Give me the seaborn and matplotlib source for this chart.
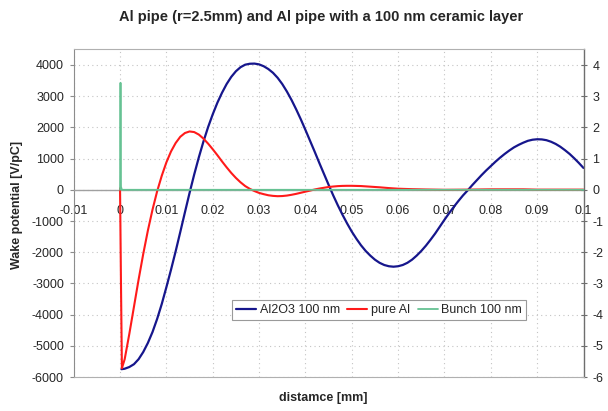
import numpy as np
import pandas as pd
import matplotlib
matplotlib.use("Agg")
import matplotlib.pyplot as plt
import seaborn as sns

# -------------------------
# Data
# -------------------------
TITLE = "Al pipe (r=2.5mm) and Al pipe with a 100 nm ceramic layer"
X_LABEL = "distamce [mm]"
Y_LABEL = "Wake potential [V/pC]"

# Al2O3 100 nm (left axis, V/pC)
al2o3_x = [0.0003, 0.001, 0.002, 0.003, 0.004, 0.005, 0.006, 0.007, 0.008, 0.009,
           0.010, 0.011, 0.012, 0.013, 0.014, 0.015, 0.016, 0.017, 0.018, 0.019,
           0.020, 0.021, 0.022, 0.023, 0.024, 0.025, 0.026, 0.027, 0.028, 0.029,
           0.030, 0.031, 0.032, 0.033, 0.034, 0.035, 0.036, 0.037, 0.038, 0.039,
           0.040, 0.041, 0.042, 0.043, 0.044, 0.045, 0.046, 0.047, 0.048, 0.049,
           0.050, 0.051, 0.052, 0.053, 0.054, 0.055, 0.056, 0.057, 0.058, 0.059,
           0.060, 0.061, 0.062, 0.063, 0.064, 0.065, 0.066, 0.067, 0.068, 0.069,
           0.070, 0.071, 0.072, 0.073, 0.074, 0.075, 0.076, 0.077, 0.078, 0.079,
           0.080, 0.081, 0.082, 0.083, 0.084, 0.085, 0.086, 0.087, 0.088, 0.089,
           0.090, 0.091, 0.092, 0.093, 0.094, 0.095, 0.096, 0.097, 0.098, 0.099,
           0.100]
al2o3_y = [-5750, -5735, -5680, -5590, -5430, -5200, -4910, -4560, -4140, -3660,
           -3120, -2560, -1970, -1350, -720, -100, 490, 1040, 1550, 2010,
           2420, 2790, 3110, 3390, 3620, 3800, 3930, 4010, 4040, 4045,
           4020, 3960, 3870, 3750, 3590, 3390, 3150, 2880, 2580, 2260,
           1920, 1570, 1220, 860, 510, 160, -180, -500, -800, -1080,
           -1340, -1570, -1780, -1960, -2110, -2240, -2340, -2410, -2450, -2465,
           -2450, -2410, -2340, -2240, -2110, -1960, -1790, -1600, -1400, -1180,
           -960, -750, -550, -360, -180, -20, 150, 310, 470, 620,
           760, 900, 1030, 1150, 1260, 1360, 1440, 1510, 1570, 1605,
           1620, 1615, 1590, 1540, 1470, 1380, 1270, 1150, 1010, 860,
           700]

# pure Al (left axis, V/pC)
al_x = [0.0, 0.0002, 0.0004, 0.001, 0.002, 0.003, 0.004, 0.005, 0.006, 0.007,
        0.008, 0.009, 0.010, 0.011, 0.012, 0.013, 0.014, 0.015, 0.016, 0.017,
        0.018, 0.019, 0.020, 0.021, 0.022, 0.023, 0.024, 0.025, 0.026, 0.027,
        0.028, 0.029, 0.030, 0.031, 0.032, 0.033, 0.034, 0.035, 0.036, 0.037,
        0.038, 0.039, 0.040, 0.041, 0.042, 0.043, 0.044, 0.045, 0.046, 0.047,
        0.048, 0.049, 0.050, 0.052, 0.054, 0.056, 0.058, 0.060, 0.063, 0.066,
        0.070, 0.075, 0.080, 0.087, 0.090, 0.100]
al_y = [50, -3000, -5720, -5430, -4620, -3750, -2880, -2060, -1310, -640,
        -50, 450, 880, 1230, 1500, 1700, 1820, 1870, 1850, 1770,
        1640, 1480, 1300, 1110, 910, 720, 540, 380, 240, 120,
        30, -40, -100, -140, -175, -195, -205, -200, -185, -160,
        -130, -95, -60, -25, 10, 40, 65, 90, 105, 118,
        125, 128, 128, 120, 100, 80, 55, 35, 20, 10,
        0, 5, 15, 15, 5, 5]

# Bunch 100 nm (right axis)
bunch_x = [0.0, 0.00005, 0.0001, 0.00015, 0.0002, 0.0004, 0.100]
bunch_y = [0.0, 1.5, 3.43, 1.5, 0.1, 0.0, 0.0]

left_ticks = [-6000, -5000, -4000, -3000, -2000, -1000, 0, 1000, 2000, 3000, 4000]
right_ticks = [-6, -5, -4, -3, -2, -1, 0, 1, 2, 3, 4]
x_ticks = [-0.01, 0, 0.01, 0.02, 0.03, 0.04, 0.05, 0.06, 0.07, 0.08, 0.09, 0.1]
x_tick_labels = ["-0.01", "0", "0.01", "0.02", "0.03", "0.04", "0.05", "0.06",
                 "0.07", "0.08", "0.09", "0.1"]

BLUE = "#16168c"
RED = "#ff1a1a"
GREEN = "#66c293"
GRID = "#c4c4c4"
FRAME = "#8c8c8c"

# -------------------------
# Figure
# -------------------------
sns.set_style("white")
plt.rcParams["font.family"] = ["Liberation Sans", "DejaVu Sans"]
plt.rcParams["axes.unicode_minus"] = False

fig = plt.figure(figsize=(6.08, 4.11), dpi=100)
ax = fig.add_axes([73.7 / 608, 1 - 377 / 411, (583.5 - 73.7) / 608, (377 - 49.4) / 411])

df_al2o3 = pd.DataFrame({"x": al2o3_x, "y": al2o3_y})
df_al = pd.DataFrame({"x": al_x, "y": al_y})
df_bunch = pd.DataFrame({"x": bunch_x, "y": bunch_y})

sns.lineplot(data=df_al2o3, x="x", y="y", ax=ax, color=BLUE, lw=1.6,
             sort=False, label="Al2O3 100 nm", zorder=3,
             solid_joinstyle="round")
sns.lineplot(data=df_al, x="x", y="y", ax=ax, color=RED, lw=1.5,
             sort=False, label="pure Al", zorder=4, solid_joinstyle="round")

ax2 = ax.twinx()
sns.lineplot(data=df_bunch, x="x", y="y", ax=ax2, color=GREEN, lw=1.3,
             sort=False, label="Bunch 100 nm", zorder=5)

ax.set_xlim(-0.01, 0.1)
ax.set_ylim(-6000, 4500)
ax2.set_ylim(-6, 4.5)

# grid
ax.set_xticks(x_ticks)
ax.set_xticklabels(x_tick_labels)
ax.set_yticks(left_ticks)
ax2.set_yticks(right_ticks)
ax.grid(True, color=GRID, linestyle=(0, (1, 3)), linewidth=0.8)
ax.set_axisbelow(True)

# x axis crossing at zero
ax.spines["bottom"].set_position(("data", 0))
ax.spines["bottom"].set_color("#a0a0a0")
ax.spines["bottom"].set_linewidth(1.0)
ax.spines["top"].set_visible(False)
ax.spines["right"].set_visible(False)
ax.spines["left"].set_color(FRAME)

for side in ["top", "bottom"]:
    ax2.spines[side].set_color("#b0b0b0")
ax2.spines["left"].set_visible(False)
ax2.spines["right"].set_color("#6e6e6e")
ax2.spines["right"].set_linewidth(1.0)

ax.tick_params(axis="x", direction="out", length=3, color="#a0a0a0",
               pad=8, labelsize=9)
ax.tick_params(axis="y", direction="out", length=3, color=FRAME,
               pad=4, labelsize=9)
ax2.tick_params(axis="y", direction="inout", length=5, color="#6e6e6e",
                pad=4, labelsize=9)

ax.set_xlabel("")
ax.set_ylabel("")
ax2.set_ylabel("")

fig.text(321 / 608, 1 - 17 / 411, TITLE, ha="center", va="center",
         fontsize=10.5, fontweight="bold")
fig.text(323 / 608, 1 - 398 / 411, X_LABEL, ha="center", va="center",
         fontsize=9, fontweight="bold")
fig.text(17 / 608, 1 - 205 / 411, Y_LABEL, ha="center", va="center",
         rotation=90, fontsize=9, fontweight="bold")

# legend
ax.get_legend().remove()
ax2.get_legend().remove()
h1, l1 = ax.get_legend_handles_labels()
h2, l2 = ax2.get_legend_handles_labels()
leg = ax2.legend(h1 + h2, l1 + l2, ncol=3, loc="center",
                 bbox_to_anchor=(379 / 608, 1 - 310 / 411),
                 bbox_transform=fig.transFigure,
                 fontsize=9, frameon=True, fancybox=False, framealpha=1,
                 edgecolor="#9a9a9a", handlelength=1.6, handletextpad=0.3,
                 columnspacing=0.6, borderpad=0.3)
leg.get_frame().set_linewidth(0.8)

fig.savefig("out.png", dpi=100)
